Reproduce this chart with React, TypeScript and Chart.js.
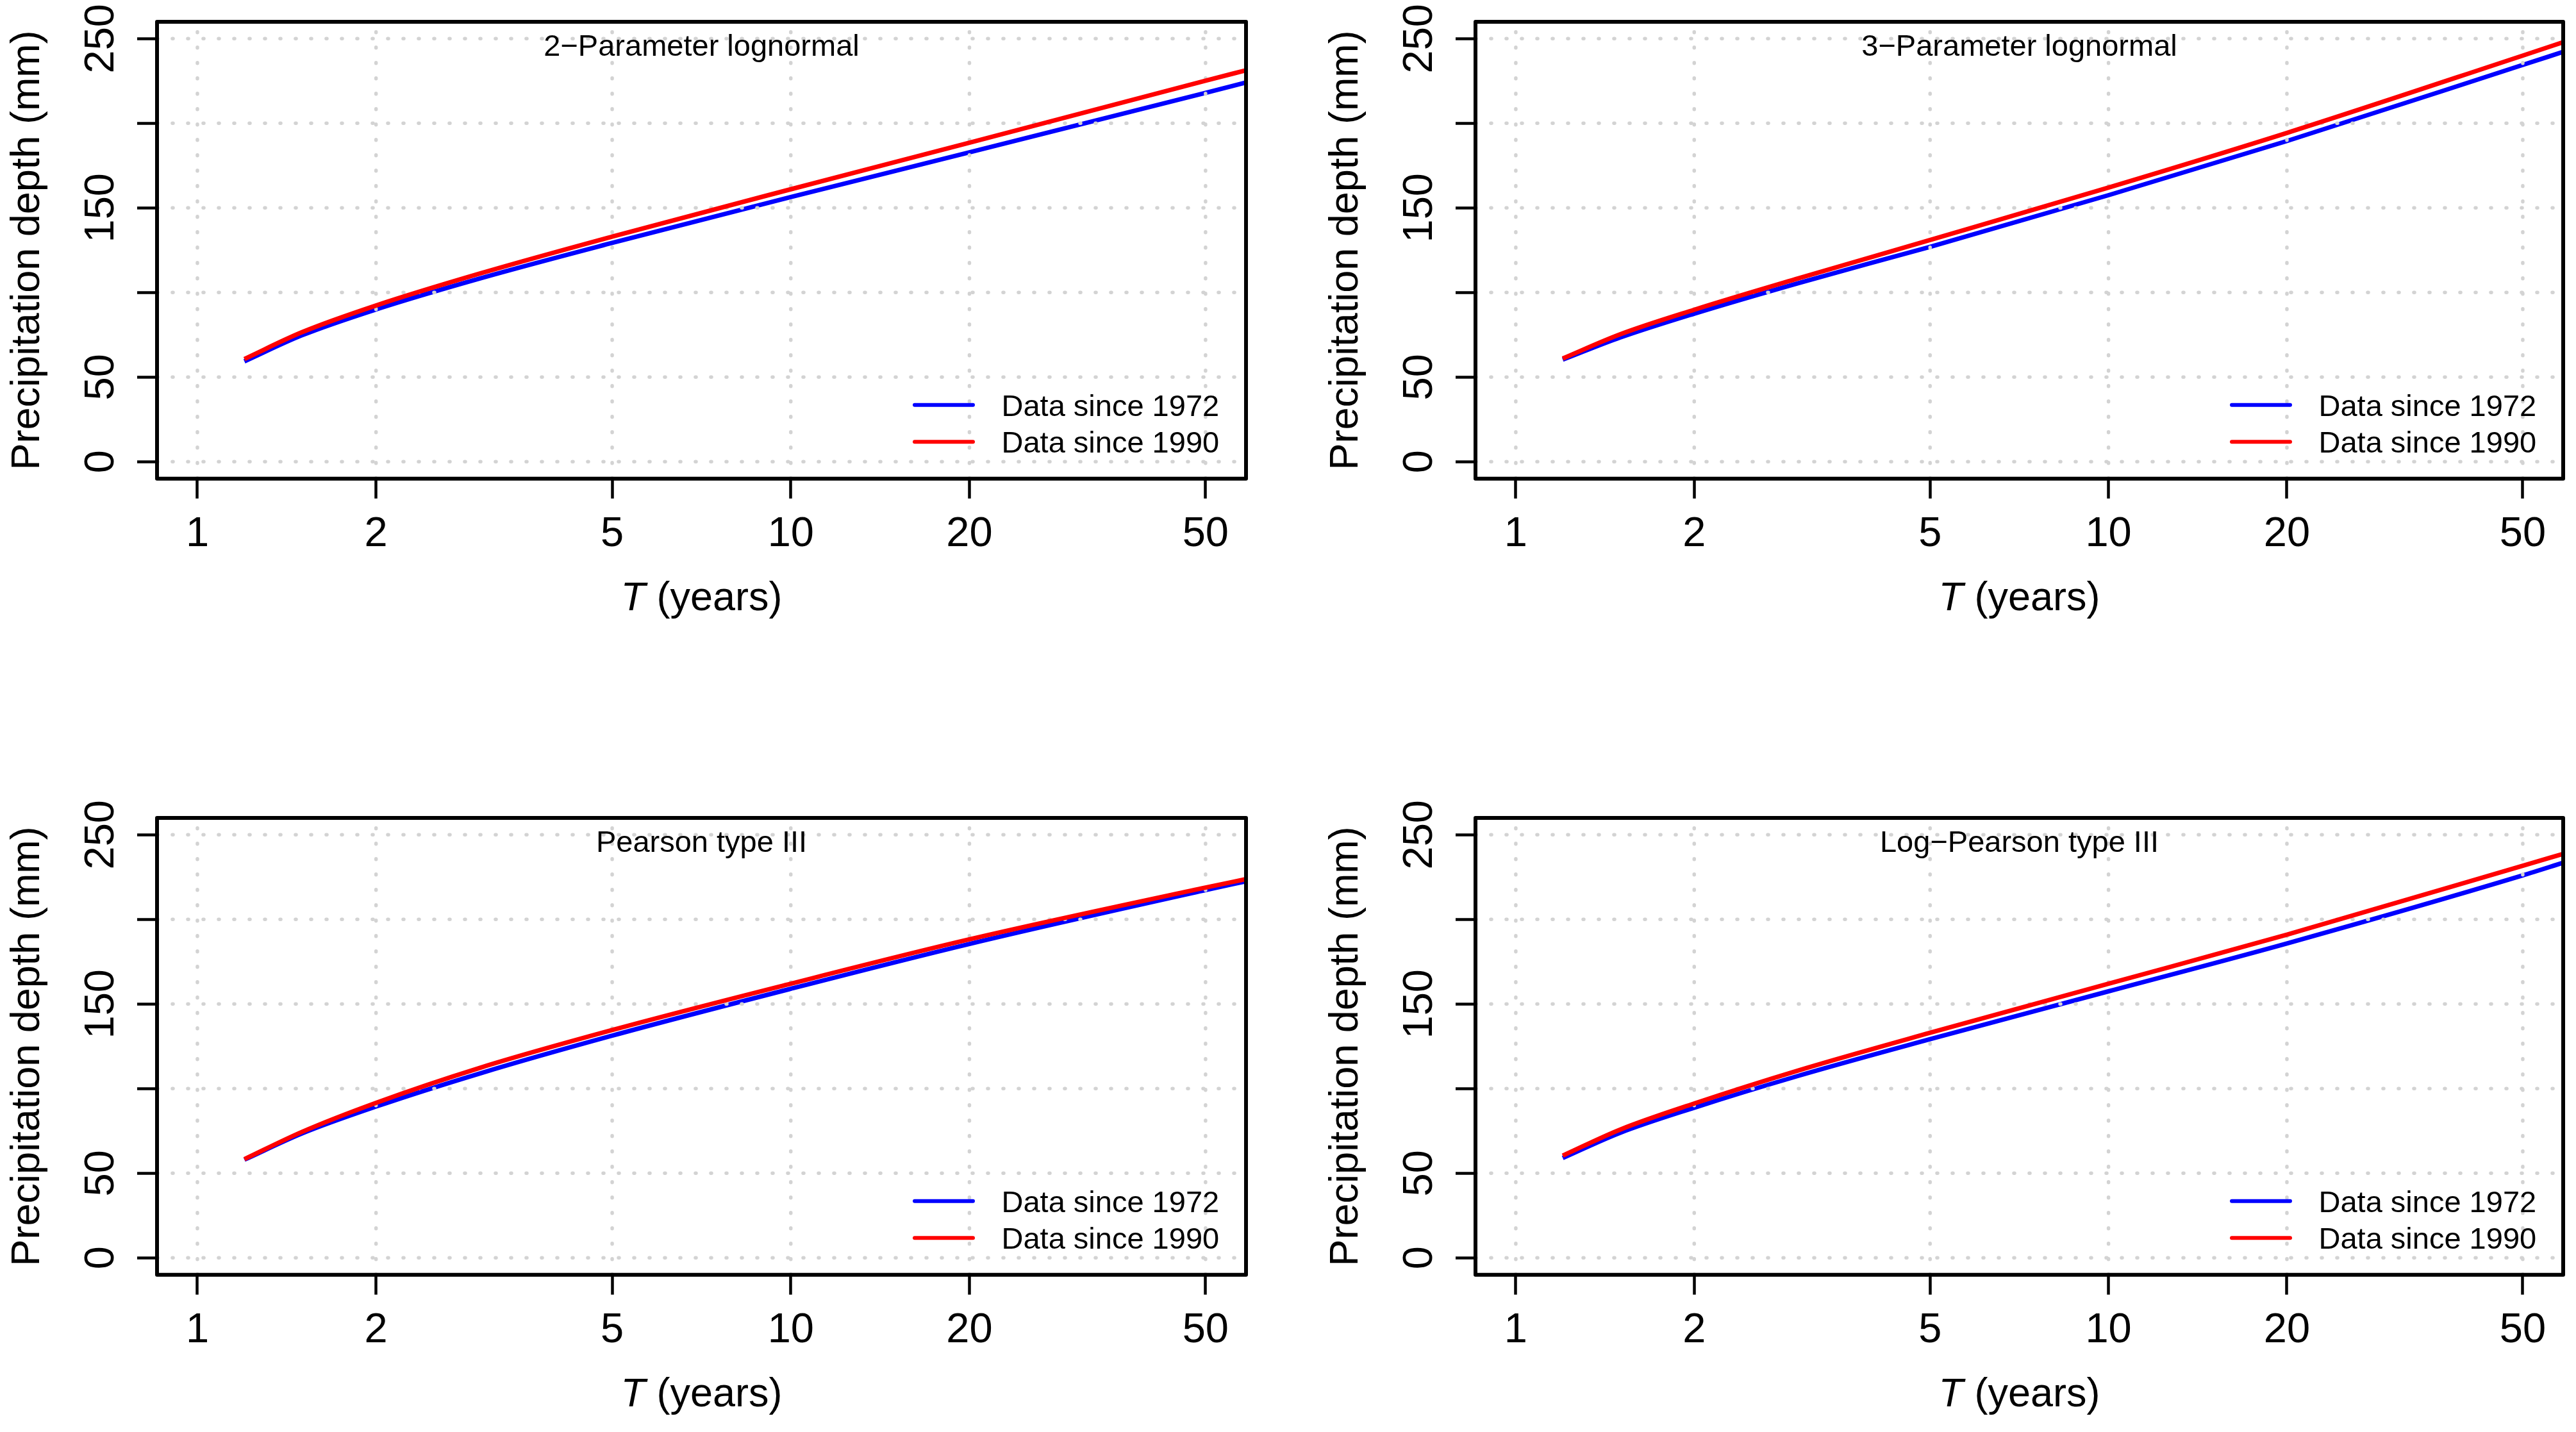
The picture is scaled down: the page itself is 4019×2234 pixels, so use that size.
import React, { useEffect, useRef } from 'react';
import { Chart, registerables } from 'chart.js';

Chart.register(...registerables);

// ---------- data ----------
const returnPeriods = [1.2, 1.5, 2, 3, 5, 10, 20, 50, 58.5];
const xTickValues = [1, 2, 5, 10, 20, 50];
const yTickValues = [0, 50, 100, 150, 200, 250];
const yTickLabels = ['0', '50', '', '150', '', '250'];
const seriesLabels = ['Data since 1972', 'Data since 1990'];
const panelTitles = ['2−Parameter lognormal', '3−Parameter lognormal', 'Pearson type III', 'Log−Pearson type III'];
const xAxisTitleItalic = 'T';
const xAxisTitleRest = ' (years)';
const yAxisTitle = 'Precipitation depth (mm)';

const lognormal2Since1972 = [59.3, 74.7, 90.0, 108.4, 129.3, 156.4, 182.8, 218.0, 224.1];
const lognormal2Since1990 = [60.7, 76.5, 92.3, 111.3, 133.0, 161.0, 188.5, 225.2, 231.3];
const lognormal3Since1972 = [60.3, 73.4, 87.5, 105.6, 127.0, 157.5, 189.5, 234.5, 242.2];
const lognormal3Since1990 = [61.0, 75.3, 89.8, 108.4, 131.0, 162.0, 194.3, 240.0, 247.9];
const pearson3Since1972 = [58.0, 73.5, 89.4, 109.1, 131.3, 159.0, 185.5, 217.3, 222.5];
const pearson3Since1990 = [58.3, 74.4, 91.6, 112.4, 134.6, 162.0, 188.2, 218.8, 223.8];
const logPearson3Since1972 = [59.0, 73.9, 88.7, 107.6, 129.2, 157.5, 185.8, 226.0, 233.5];
const logPearson3Since1990 = [60.4, 75.8, 91.2, 110.8, 133.0, 162.0, 191.0, 231.7, 238.7];

const panelSeries = [
  [lognormal2Since1972, lognormal2Since1990],
  [lognormal3Since1972, lognormal3Since1990],
  [pearson3Since1972, pearson3Since1990],
  [logPearson3Since1972, logPearson3Since1990],
];

// ---------- layout / style ----------
const FONT = '"Liberation Sans", Arial, Helvetica, sans-serif';
const X_MIN = 0.855;
const X_MAX = 58.5;
const Y_MIN = -10;
const Y_MAX = 260;

const panels = [
  { x: 0, y: 0, w: 2009, h: 1117, left: 245, right: 1944, top: 33.9, bottom: 746.7 },
  { x: 2009, y: 0, w: 2010, h: 1117, left: 293, right: 1990, top: 33.9, bottom: 746.7 },
  { x: 0, y: 1117, w: 2009, h: 1117, left: 245, right: 1944, top: 158.9, bottom: 871.7 },
  { x: 2009, y: 1117, w: 2010, h: 1117, left: 293, right: 1990, top: 158.9, bottom: 871.7 },
];

const rPanelPlugin = {
  id: 'rPanel',
  afterDatasetDraw(chart: any, args: any) {
    if (args.index !== 0) return;
    const { ctx, chartArea } = chart;
    const { left, right, top, bottom } = chartArea;
    const xs = chart.scales.x;
    const ys = chart.scales.y;
    ctx.save();
    ctx.beginPath();
    ctx.rect(left, top, right - left, bottom - top);
    ctx.clip();
    ctx.strokeStyle = '#D3D3D3';
    ctx.lineWidth = 5.5;
    ctx.lineCap = 'round';
    ctx.setLineDash([1, 23]);
    for (const v of xTickValues) {
      const px = xs.getPixelForValue(v);
      ctx.beginPath();
      ctx.moveTo(px, bottom);
      ctx.lineTo(px, top);
      ctx.stroke();
    }
    for (const v of yTickValues) {
      const py = ys.getPixelForValue(v);
      ctx.beginPath();
      ctx.moveTo(left, py);
      ctx.lineTo(right, py);
      ctx.stroke();
    }
    ctx.restore();
  },
  afterDraw(chart: any, _args: any, opts: any) {
    const { ctx, chartArea } = chart;
    const { left, right, top, bottom } = chartArea;
    const xs = chart.scales.x;
    const ys = chart.scales.y;
    ctx.save();
    // box
    ctx.strokeStyle = '#000';
    ctx.lineWidth = 6;
    ctx.lineJoin = 'round';
    ctx.setLineDash([]);
    ctx.strokeRect(left, top, right - left, bottom - top);

    ctx.fillStyle = '#000';
    // panel title
    ctx.font = `47px ${FONT}`;
    ctx.textAlign = 'center';
    ctx.textBaseline = 'alphabetic';
    ctx.fillText(opts.title, (left + right) / 2, top + 53);

    // x tick labels
    ctx.font = `65px ${FONT}`;
    for (const v of xTickValues) {
      ctx.fillText(String(v), xs.getPixelForValue(v), bottom + 105);
    }
    // y tick labels (rotated)
    yTickValues.forEach((v, i) => {
      const lab = yTickLabels[i];
      if (!lab) return;
      ctx.save();
      ctx.translate(left - 68, ys.getPixelForValue(v));
      ctx.rotate(-Math.PI / 2);
      ctx.textAlign = 'center';
      ctx.fillText(lab, 0, 0);
      ctx.restore();
    });

    // x axis title
    ctx.font = `italic 63px ${FONT}`;
    const w1 = ctx.measureText(xAxisTitleItalic).width;
    ctx.font = `63px ${FONT}`;
    const w2 = ctx.measureText(xAxisTitleRest).width;
    const start = (left + right) / 2 - (w1 + w2) / 2;
    ctx.textAlign = 'left';
    ctx.font = `italic 63px ${FONT}`;
    ctx.fillText(xAxisTitleItalic, start, bottom + 205);
    ctx.font = `63px ${FONT}`;
    ctx.fillText(xAxisTitleRest, start + w1, bottom + 205);

    // y axis title
    ctx.save();
    ctx.translate(left - 184, (top + bottom) / 2);
    ctx.rotate(-Math.PI / 2);
    ctx.textAlign = 'center';
    ctx.font = `63px ${FONT}`;
    ctx.fillText(yAxisTitle, 0, 0);
    ctx.restore();

    // legend
    ctx.font = `47px ${FONT}`;
    ctx.textAlign = 'left';
    chart.data.datasets.forEach((ds: any, i: number) => {
      const rowY = bottom - 115 + i * 57.6;
      ctx.strokeStyle = ds.borderColor;
      ctx.lineWidth = 6;
      ctx.lineCap = 'round';
      ctx.beginPath();
      ctx.moveTo(right - 517, rowY);
      ctx.lineTo(right - 426, rowY);
      ctx.stroke();
      ctx.fillStyle = '#000';
      ctx.fillText(ds.label, right - 381.5, rowY + 17);
    });
    ctx.restore();
  },
};

function makeChart(canvas: HTMLCanvasElement, idx: number) {
  const p = panels[idx];
  const [blue, red] = panelSeries[idx];
  const tickGrid = {
    display: true,
    drawOnChartArea: false,
    drawTicks: true,
    tickLength: 31,
    tickWidth: 4.5,
    tickColor: '#000',
    color: '#000',
  };
  return new Chart(canvas, {
    type: 'line',
    data: {
      datasets: [
        {
          label: seriesLabels[0],
          data: returnPeriods.map((t, i) => ({ x: t, y: blue[i] })),
          borderColor: '#0000FF',
          backgroundColor: '#0000FF',
          borderWidth: 7,
          pointRadius: 0,
          cubicInterpolationMode: 'monotone',
          fill: false,
          clip: 0,
          order: 2,
        },
        {
          label: seriesLabels[1],
          data: returnPeriods.map((t, i) => ({ x: t, y: red[i] })),
          borderColor: '#FF0000',
          backgroundColor: '#FF0000',
          borderWidth: 7,
          pointRadius: 0,
          cubicInterpolationMode: 'monotone',
          fill: false,
          clip: 0,
          order: 1,
        },
      ],
    } as any,
    options: {
      animation: false,
      responsive: false,
      devicePixelRatio: 1,
      events: [],
      layout: { padding: { left: 0, top: p.top, right: p.w - p.right, bottom: 0 } },
      plugins: {
        legend: { display: false },
        tooltip: { enabled: false },
        title: { display: false },
        rPanel: { title: panelTitles[idx] },
      } as any,
      scales: {
        x: {
          type: 'logarithmic',
          position: 'bottom',
          min: X_MIN,
          max: X_MAX,
          bounds: 'data',
          afterBuildTicks: (s: any) => {
            s.ticks = xTickValues.map((v) => ({ value: v }));
          },
          afterFit: (s: any) => {
            s.height = p.h - p.bottom;
          },
          ticks: { display: false },
          grid: tickGrid,
          border: { display: false },
        },
        y: {
          type: 'linear',
          position: 'left',
          min: Y_MIN,
          max: Y_MAX,
          bounds: 'data',
          afterBuildTicks: (s: any) => {
            s.ticks = yTickValues.map((v) => ({ value: v }));
          },
          afterFit: (s: any) => {
            s.width = p.left;
          },
          ticks: { display: false },
          grid: tickGrid,
          border: { display: false },
        },
      } as any,
    },
    plugins: [rPanelPlugin as any],
  });
}

function Panel({ idx }: { idx: number }) {
  const ref = useRef<HTMLCanvasElement>(null);
  const p = panels[idx];
  useEffect(() => {
    const chart = makeChart(ref.current as HTMLCanvasElement, idx);
    return () => chart.destroy();
  }, [idx]);
  return (
    <canvas
      ref={ref}
      width={p.w}
      height={p.h}
      style={{ position: 'absolute', left: p.x, top: p.y, width: p.w, height: p.h, display: 'block' }}
    />
  );
}

export default function App() {
  useEffect(() => {
    document.body.style.margin = '0';
    document.body.style.background = '#fff';
  }, []);
  return (
    <div style={{ position: 'absolute', left: 0, top: 0, width: 4019, height: 2234, background: '#fff', overflow: 'hidden' }}>
      {panels.map((_, i) => (
        <Panel key={i} idx={i} />
      ))}
    </div>
  );
}
